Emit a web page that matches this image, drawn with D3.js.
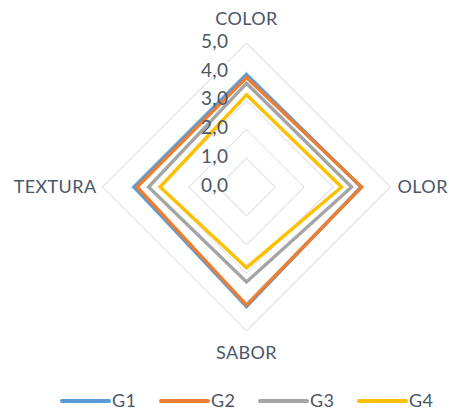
<!DOCTYPE html>
<html>
<head>
<meta charset="utf-8">
<script src="https://cdn.jsdelivr.net/npm/d3@7"></script>
<style>
  body { margin: 0; background: #fff; }
  text { font-family: Lato, "Open Sans", sans-serif; fill: #4d5666; letter-spacing: 0.4px; }
</style>
</head>
<body>
<div id="chart"></div>
<script>
var width = 449;
var height = 411;

// data
var axes = ["COLOR", "OLOR", "SABOR", "TEXTURA"];
var seriesNames = ["G1", "G2", "G3", "G4"];
var g1 = [3.9, 3.98, 4.15, 3.9];
var g2 = [3.8, 4.0, 4.1, 3.8];
var g3 = [3.6, 3.65, 3.3, 3.4];
var g4 = [3.2, 3.3, 2.8, 3.0];
var ticks = [0, 1, 2, 3, 4, 5];
var colors = ["#5b9bd5", "#ed7d31", "#a5a5a5", "#ffc000"];

var series = [g1, g2, g3, g4];

var cx = 246.5, cy = 187;

var svg = d3.select("#chart")
    .append("svg")
    .attr("width", width)
    .attr("height", height);

var g = svg.append("g").attr("transform", "translate(" + cx + "," + cy + ")");

var r = d3.scaleLinear().domain([0, 5]).range([0, 144]);
var angle = d3.scalePoint().domain(axes).range([0, 2 * Math.PI * 3 / 4]);

function pt(a, v) {
  var t = angle(a);
  return [r(v) * Math.sin(t), -r(v) * Math.cos(t)];
}

var line = d3.line().curve(d3.curveLinearClosed);

// grid
g.selectAll(".grid")
  .data(ticks.slice(1))
  .enter().append("path")
    .attr("class", "grid")
    .attr("d", function(t) { return line(axes.map(function(a) { return pt(a, t); })); })
    .attr("fill", "none")
    .attr("stroke", "#e3e6ea")
    .attr("stroke-width", 1.2);

// series
g.selectAll(".serie")
  .data(series)
  .enter().append("path")
    .attr("class", "serie")
    .attr("d", function(s) { return line(axes.map(function(a, i) { return pt(a, s[i]); })); })
    .attr("fill", "none")
    .attr("stroke", function(s, i) { return colors[i]; })
    .attr("stroke-width", 3.4)
    .attr("stroke-linejoin", "miter");

// tick labels
g.selectAll(".tick")
  .data(ticks)
  .enter().append("text")
    .attr("class", "tick")
    .attr("x", -18)
    .attr("y", function(t) { return -r(t) - 2; })
    .attr("dy", "0.36em")
    .attr("text-anchor", "end")
    .style("font-size", "19px")
    .text(function(t) { return d3.format(".1f")(t).replace(".", ","); });

// axis labels
var labelPos = {
  COLOR:   {x: 0, y: -168, anchor: "middle"},
  OLOR:    {x: 151, y: 0, anchor: "start"},
  SABOR:   {x: 0, y: 166, anchor: "middle"},
  TEXTURA: {x: -150, y: 0, anchor: "end"}
};

g.selectAll(".axlabel")
  .data(axes)
  .enter().append("text")
    .attr("class", "axlabel")
    .attr("x", function(a) { return labelPos[a].x; })
    .attr("y", function(a) { return labelPos[a].y; })
    .attr("dy", "0.36em")
    .attr("text-anchor", function(a) { return labelPos[a].anchor; })
    .style("font-size", "18px")
    .text(function(a) { return a; });

// legend
var legend = svg.append("g").attr("transform", "translate(60,401)");
var item = legend.selectAll(".leg")
  .data(seriesNames)
  .enter().append("g")
    .attr("class", "leg")
    .attr("transform", function(d, i) { return "translate(" + (i * 99) + ",0)"; });

item.append("line")
    .attr("x1", 2).attr("x2", 49)
    .attr("stroke", function(d, i) { return colors[i]; })
    .attr("stroke-width", 4)
    .attr("stroke-linecap", "round");

item.append("text")
    .attr("x", 52)
    .attr("dy", "0.36em")
    .style("font-size", "18px")
    .text(function(d) { return d; });
</script>
</body>
</html>
